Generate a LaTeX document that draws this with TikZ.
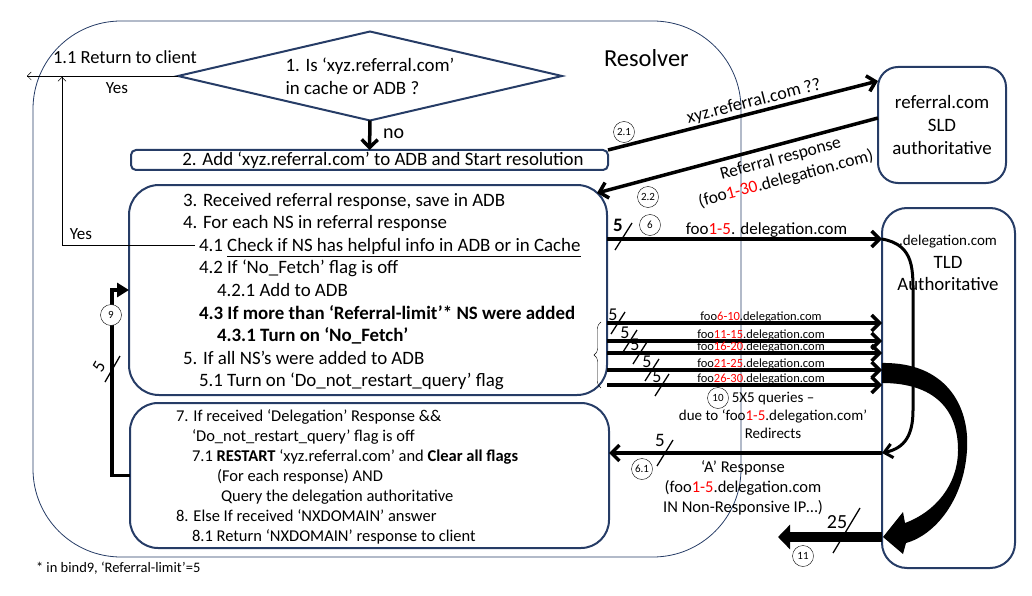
\documentclass[tikz,border=0pt]{standalone}
\usepackage{fontspec}
\setmainfont{Carlito}
\usetikzlibrary{arrows.meta,shapes.geometric,decorations.pathreplacing}
\definecolor{navy}{RGB}{38,60,102}
\newcommand{\redpart}[1]{\textcolor{red}{#1}}

\begin{document}
\begin{tikzpicture}[x=1pt,y=-1pt]
  \tikzstyle{every node}=[inner sep=0pt,outer sep=0pt]
  \tikzstyle{box}=[draw=navy,line width=2pt]
  \tikzstyle{txt}=[font=\fontsize{18.9}{22.6}\selectfont]
  \tikzstyle{small}=[font=\fontsize{16.5}{20}\selectfont]
  \tikzstyle{tiny}=[font=\fontsize{12.5}{15}\selectfont]
  \tikzstyle{num}=[draw,circle,thin,fill=white,minimum size=21pt,font=\fontsize{11}{11}\selectfont]
  \tikzstyle{flow}=[line width=3.5pt,-{Straight Barb[length=8pt,width=16pt]}]
  \tikzstyle{slash}=[line width=1.3pt]
  \useasboundingbox (0,0) rectangle (1032,596);

  \node[draw=navy,line width=0.8pt,rounded corners=88pt,minimum width=708pt,minimum height=536pt] (resolver) at (387,289) {};
  \node[font=\fontsize{24.5}{28}\selectfont,anchor=base west] (title) at (604,67) {Resolver};

  \node[box,shape=diamond,aspect=4.3,minimum width=384pt,minimum height=89pt,txt,align=left] (cache) at (370,76) {1. Is ‘xyz.referral.com’\\in cache or ADB ?};
  \node[font=\fontsize{18.5}{22}\selectfont,anchor=base west] (ret) at (53,64) {1.1 Return to client};
  \node[font=\fontsize{17}{20}\selectfont] (yes1) at (117,88) {Yes};
  \coordinate (client) at (27,76);
  \draw[thin,-{Straight Barb[length=4pt,width=8pt]}] (cache.west) -- (client);

  \node[box,rounded corners=5pt,minimum width=477pt,minimum height=20pt] (add) at (369.5,160) {};
  \node[txt] (addtext) at (383,160) {2. Add ‘xyz.referral.com’ to ADB and Start resolution};
  \draw[flow] (cache.south) -- (add.north);
  \node[font=\fontsize{20}{24}\selectfont,anchor=base west] (no) at (383,139) {no};

  \node[box,rounded corners=30pt,minimum width=478pt,minimum height=210pt] (received) at (368,290) {};
  \node[txt,align=left,anchor=north west] (receivedtext) at (183,193) {3. Received referral response, save in ADB\\
    4. For each NS in referral response\\
    \hspace*{16pt}4.1 \underline{Check if NS has helpful info in ADB or in Cache}\\
    \hspace*{16pt}4.2 If ‘No\_Fetch’ flag is off\\
    \hspace*{34pt}4.2.1 Add to ADB\\
    \hspace*{16pt}\textbf{4.3 If more than ‘Referral-limit’* NS were added}\\
    \hspace*{34pt}\textbf{4.3.1 Turn on ‘No\_Fetch’}\\
    5. If all NS’s were added to ADB\\
    \hspace*{16pt}5.1 Turn on ‘Do\_not\_restart\_query’ flag};
  \coordinate (helpful) at (195,245);
  \coordinate (yesup) at (62,77);
  \draw[thin,-{Straight Barb[length=4pt,width=8pt]}] (helpful) -| (yesup);
  \node[font=\fontsize{17}{20}\selectfont] (yes2) at (81,234) {Yes};

  \node[box,rounded corners=28pt,minimum width=479pt,minimum height=145pt] (delegation) at (369.5,475.5) {};
  \node[small,align=left,anchor=north west] (delegationtext) at (176,410) {7. If received ‘Delegation’ Response \&\&\\
    \hspace*{16pt}‘Do\_not\_restart\_query’ flag is off\\
    \hspace*{16pt}7.1 \textbf{RESTART} ‘xyz.referral.com’ and \textbf{Clear all flags}\\
    \hspace*{41pt}(For each response) AND\\
    \hspace*{45pt}Query the delegation authoritative\\
    8. Else If received ‘NXDOMAIN’ answer\\
    \hspace*{16pt}8.1 Return ‘NXDOMAIN’ response to client};
  \node[font=\fontsize{14.5}{17}\selectfont,anchor=base west] (note) at (36,572) {* in bind9, ‘Referral-limit’=5};

  \draw[line width=3.5pt,-{Triangle[length=12pt,width=14pt]}] (delegation.west) -| ([xshift=-17pt]received.west) -- (received.west);
  \node[num] (n9) at (111,315) {9};
  \draw[slash] (105,382) -- (120,356);
  \node[font=\fontsize{18}{20}\selectfont,rotate=60] (five9) at (99,367) {5};

  \node[box,rounded corners=20pt,minimum width=128pt,minimum height=116pt,txt,align=center] (sld) at (942,125) {referral.com\\SLD\\authoritative};
  \node[box,rounded corners=25pt,minimum width=133pt,minimum height=360pt] (tld) at (948.5,388) {};
  \node[txt,align=center,anchor=north] (tldtext) at (948,235) {{\fontsize{15}{18}\selectfont .delegation.com}\\TLD\\Authoritative};

  \draw[flow] (add.north east) -- (sld.west |- 0,81) node[pos=0.55,above=3pt,sloped,font=\fontsize{18}{22}\selectfont] (q21) {xyz.referral.com ??};
  \node[num] (n21) at (624,132) {2.1};
  \draw[flow,{Straight Barb[length=8pt,width=16pt]}-] ([xshift=-10pt,yshift=-8pt]received.north east) -- (sld.west |- 0,118) node[pos=0.64,below=7pt,sloped,align=center,font=\fontsize{17.5}{21}\selectfont] (r22) {Referral response\\(foo\redpart{1-30}.delegation.com)};
  \node[num] (n22) at (648,197) {2.2};

  \draw[flow] (received.east |- 0,239) -- (tld.west |- 0,239) node[pos=0.58,above=2pt,font=\fontsize{17}{20}\selectfont] (q6) {foo\redpart{1-5}. delegation.com};
  \node[num] (n6) at (650,225) {6};
  \draw[slash] (615,250) -- (632,223);
  \node[font=\fontsize{19}{22}\selectfont\bfseries] (five6) at (618,225) {5};

  \foreach \y/\rng/\sx [count=\i] in {323/6-10/618,341/11-15/630,353/16-20/640,370/21-25/652,385/26-30/662} {
    \draw[flow] (received.east |- 0,\y) -- (tld.west |- 0,\y) node[pos=0.56,above=0pt,tiny] (q\i) {foo\redpart{\rng}.delegation.com};
    \draw[slash] (\sx-7,\y+11) -- (\sx+7,\y-11);
    \node[font=\fontsize{18}{20}\selectfont] (five\i) at (\sx-5,\y-8) {5};
  }
  \draw[thin,decorate,decoration={brace,amplitude=7pt}] (601,388) -- (601,322);
  \node[num] (n10) at (718,398) {10};
  \node[font=\fontsize{15}{18}\selectfont,align=center] (queries) at (773,415) {5X5 queries –\\due to ‘foo\redpart{1-5}.delegation.com’\\Redirects};

  \draw[line width=3pt,-{Straight Barb[length=8pt,width=14pt]}] (tld.west |- 0,239) .. controls (915,245) and (913,270) .. (913,300) -- (913,410) .. controls (913,435) and (905,448) .. (tld.west |- 0,453);
  \draw[flow] (tld.west |- 0,453) -- (delegation.east |- 0,453);
  \node[num] (n61) at (642,469) {6.1};
  \draw[slash] (657,466) -- (673,440);
  \node[font=\fontsize{19}{22}\selectfont] (five61) at (660,440) {5};
  \node[small,align=center] (aresp) at (743,488) {‘A’ Response\\(foo\redpart{1-5}.delegation.com\\IN Non-Responsive IP…)};

  \fill (tld.west |- 0,363) .. controls (945,362) and (970,405) .. (967,450) .. controls (964,500) and (935,535) .. (906,543) -- (903,554) -- (883,537) -- (903,512) -- (905,523) .. controls (935,512) and (958,485) .. (958,450) .. controls (958,410) and (935,383) .. (tld.west |- 0,383) -- cycle;
  \coordinate (nxclient) at (778,537);
  \draw[line width=10pt,-{Triangle[length=12pt,width=24pt]}] (tld.west |- 0,537) -- (nxclient);
  \draw[slash] (833,553) -- (860,508);
  \node[font=\fontsize{20}{24}\selectfont] (five11) at (837,522) {25};
  \node[num] (n11) at (803,556) {11};
\end{tikzpicture}
\end{document}
